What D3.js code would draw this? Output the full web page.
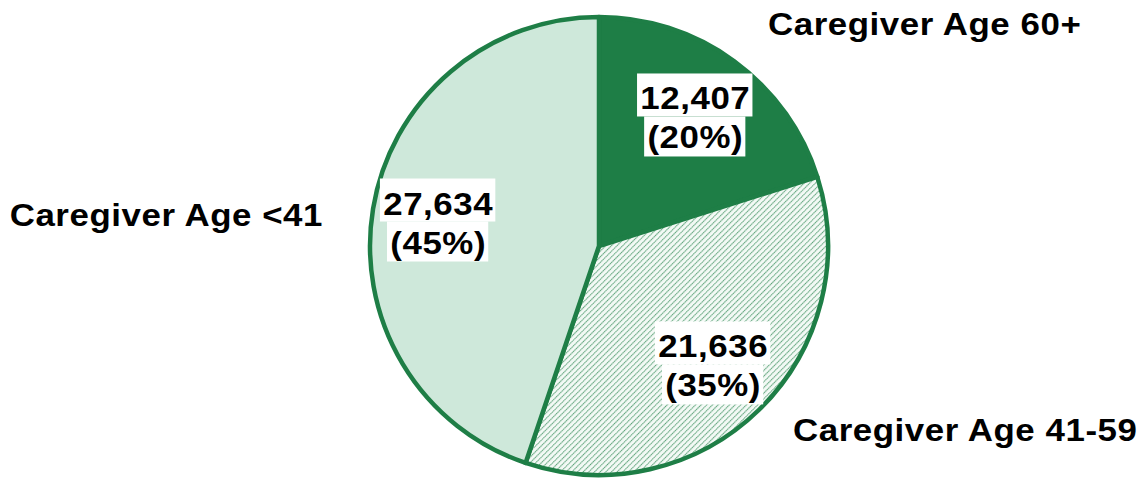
<!DOCTYPE html>
<html>
<head>
<meta charset="utf-8">
<script src="https://cdn.jsdelivr.net/npm/d3@7"></script>
<style>
  body { margin: 0; background: #fff; }
  svg { display: block; font-family: "Liberation Sans", Arial, sans-serif; font-weight: bold; }
</style>
</head>
<body>
<svg width="1140" height="479"></svg>
<script>
const width = 1140;
const height = 479;

// chart data
const categories = ["Caregiver Age 60+", "Caregiver Age 41-59", "Caregiver Age <41"];
const counts = [12407, 21636, 27634];
const percents = ["20%", "35%", "45%"];

const green = "#1e7e46";
const lightGreen = "#cee8da";
const stretch = 1.09;

const svg = d3.select("svg");
const cx = 599, cy = 246, radius = 229;

const defs = svg.append("defs");
const hatch = defs.append("pattern")
    .attr("id", "hatch")
    .attr("patternUnits", "userSpaceOnUse")
    .attr("width", 4)
    .attr("height", 4)
    .attr("patternTransform", "rotate(45)");
hatch.append("rect").attr("width", 4).attr("height", 4).attr("fill", "#f4faf6");
hatch.append("line")
    .attr("x1", 0).attr("y1", 0).attr("x2", 0).attr("y2", 4)
    .attr("stroke", green)
    .attr("stroke-opacity", 0.7)
    .attr("stroke-width", 2.2)
    .attr("stroke-dasharray", "1.6 0.4");

const fills = [green, "url(#hatch)", lightGreen];

const data = categories.map((c, i) => ({ name: c, value: counts[i], pct: percents[i], fill: fills[i] }));

const pie = d3.pie().value(d => d.value).sort(null);
const arcs = pie(data);
const arc = d3.arc().innerRadius(0).outerRadius(radius);
const labelArc = d3.arc().innerRadius(163).outerRadius(163);

const g = svg.append("g").attr("transform", `translate(${cx},${cy})`);

g.selectAll("path.slice")
    .data(arcs)
    .enter().append("path")
    .attr("class", "slice")
    .attr("d", arc)
    .attr("fill", d => d.data.fill)
    .attr("stroke", green)
    .attr("stroke-width", 4.5)
    .attr("stroke-linejoin", "round");

// value labels with white boxes
const valueLabels = g.selectAll("g.val")
    .data(arcs)
    .enter().append("g")
    .attr("class", "val")
    .attr("transform", d => `translate(${labelArc.centroid(d)}) scale(${stretch},1)`);

valueLabels.each(function (d) {
    const sel = d3.select(this);
    const lines = [d3.format(",")(d.data.value), "(" + d.data.pct + ")"];
    const baselines = [-5, 34];
    const texts = lines.map((t, i) => sel.append("text")
        .attr("y", baselines[i])
        .attr("text-anchor", "middle")
        .attr("font-size", 32)
        .attr("letter-spacing", 0.5)
        .attr("fill", "#000")
        .text(t));
    const boxes = [[-36, 7], [7, 47]];
    texts.forEach((t, i) => {
        const bb = t.node().getBBox();
        sel.insert("rect", "text")
            .attr("x", bb.x - 3)
            .attr("y", baselines[0] + boxes[i][0])
            .attr("width", bb.width + 5)
            .attr("height", boxes[i][1] - boxes[i][0])
            .attr("fill", "#fff");
    });
});

// category labels outside the pie
const catPos = [
    { dx: 169, dy: -211, anchor: "start" },
    { dx: 194, dy: 195, anchor: "start" },
    { dx: -276, dy: -20, anchor: "end" }
];
g.selectAll("g.cat")
    .data(arcs)
    .enter().append("g")
    .attr("class", "cat")
    .attr("transform", (d, i) => `translate(${catPos[i].dx},${catPos[i].dy}) scale(${stretch},1)`)
    .append("text")
    .attr("text-anchor", (d, i) => catPos[i].anchor)
    .attr("font-size", 32)
    .attr("letter-spacing", 0.5)
    .attr("fill", "#000")
    .text(d => d.data.name);
</script>
</body>
</html>
